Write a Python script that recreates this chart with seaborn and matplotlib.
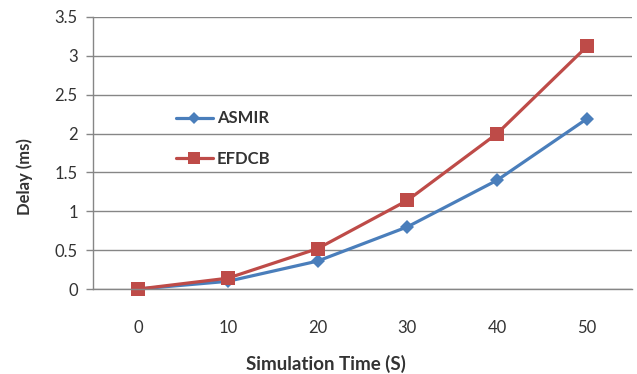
import matplotlib
matplotlib.use("Agg")
import matplotlib.pyplot as plt
import seaborn as sns
import pandas as pd
import numpy as np

# Simulation time categories and delay series (ms)
times = ["0", "10", "20", "30", "40", "50"]
asmir = [0.0, 0.10, 0.36, 0.80, 1.40, 2.19]
efdcb = [0.0, 0.14, 0.52, 1.14, 2.00, 3.12]
y_ticks = [0, 0.5, 1, 1.5, 2, 2.5, 3, 3.5]
y_tick_labels = ["0", "0.5", "1", "1.5", "2", "2.5", "3", "3.5"]

sns.set_theme(style="white")
plt.rcParams["font.family"] = ["Lato", "DejaVu Sans"]

df = pd.DataFrame({
    "pos": list(range(len(times))) * 2,
    "delay": asmir + efdcb,
    "series": ["ASMIR"] * len(times) + ["EFDCB"] * len(times),
})

fig = plt.figure(figsize=(6.37, 3.74), dpi=100)
ax = fig.add_axes([0.146, 0.227, 0.846, 0.728])

palette = {"ASMIR": "#4A7EBB", "EFDCB": "#BE4B48"}
sns.lineplot(data=df, x="pos", y="delay", hue="series", style="series",
             markers={"ASMIR": "D", "EFDCB": "s"}, dashes=False,
             palette=palette, linewidth=2.3, ax=ax, legend=False)
for line, ms in zip(ax.lines, [7, 10]):
    line.set_markersize(ms)
    line.set_markeredgewidth(0)
    line.set_clip_on(False)

ax.set_xlim(-0.5, len(times) - 0.5)
ax.set_ylim(0, 3.5)
ax.set_yticks(y_ticks)
ax.set_yticklabels(y_tick_labels)
ax.set_xticks(range(len(times)))
ax.set_xticklabels(times)
ax.set_xticks(np.arange(-0.5, len(times), 1.0), minor=True)
ax.tick_params(axis="x", which="major", length=0, pad=22, labelsize=12, colors="#333333")
ax.tick_params(axis="x", which="minor", length=5, width=1, color="#868686", direction="out")
ax.tick_params(axis="y", which="major", length=5, width=1, color="#868686",
               direction="out", labelsize=12, pad=6, labelcolor="#333333")
ax.tick_params(axis="y", left=True)

ax.grid(axis="y", color="#868686", linewidth=1)
ax.set_axisbelow(True)
for side in ["top", "right"]:
    ax.spines[side].set_visible(False)
for side in ["left", "bottom"]:
    ax.spines[side].set_color("#868686")
    ax.spines[side].set_linewidth(1)

ax.set_xlabel("Simulation Time (S)", fontsize=13.5, fontweight="bold", color="#333333")
ax.set_ylabel("Delay (ms)", fontsize=12, fontweight="bold", color="#333333")
ax.xaxis.set_label_coords(0.432, -0.24)
ax.yaxis.set_label_coords(-0.111, 0.415)

handles = [
    plt.Line2D([], [], color=palette["ASMIR"], marker="D", markersize=6, linewidth=2.3, markeredgewidth=0),
    plt.Line2D([], [], color=palette["EFDCB"], marker="s", markersize=9, linewidth=2.3, markeredgewidth=0),
]
leg = ax.legend(handles, ["ASMIR", "EFDCB"], loc="center left",
                bbox_to_anchor=(0.154, 0.553), frameon=False, fontsize=12,
                handlelength=2.2, handletextpad=0.25, labelspacing=1.45,
                borderpad=0, borderaxespad=0)
for t in leg.get_texts():
    t.set_fontweight("bold")
    t.set_color("#333333")

fig.savefig("out.png", dpi=100, facecolor="white")
